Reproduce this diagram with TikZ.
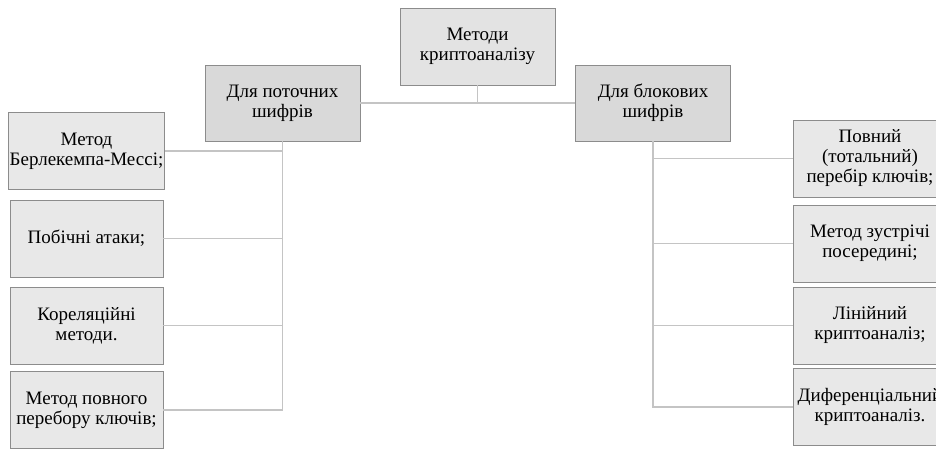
\documentclass[tikz,border=0pt]{standalone}
\usepackage{fontspec}
\setmainfont{Liberation Serif}
\usepackage{tikz}
\definecolor{ramka}{HTML}{8C8C8C}
\definecolor{liniya}{HTML}{C4C4C4}
\tikzstyle{metod} = [draw=ramka, fill=gray!18, rectangle, align=center, minimum width=153pt, minimum height=77pt, inner sep=1pt, font=\fontsize{19}{20}\selectfont]
\tikzstyle{grupa} = [metod, fill=gray!30, minimum width=155pt, minimum height=76pt]
\tikzstyle{korin} = [metod, fill=gray!22, minimum width=155pt]
\tikzstyle{zvjazok} = [draw=liniya, line width=1.8pt]

\begin{document}
\begin{tikzpicture}[x=1pt,y=-1pt]
	\useasboundingbox (0,0) rectangle (936,448);
	\clip (0,0) rectangle (936,448);
	% corin
	\node[korin](metody) at (477.5,46.5) {Методи\\криптоаналізу};
	\node[grupa](potok) at (282.5,103) {Для поточних\\шифрів};
	\node[grupa](blok) at (653,103) {Для блокових\\шифрів};
	% potokovi
	\node[metod](p1) at (86.5,151) {Метод\\Берлекемпа-Мессі;};
	\node[metod](p2) at (86.5,238.5) {Побічні атаки;};
	\node[metod](p3) at (86.5,325.5) {Кореляційні\\методи.};
	\node[metod](p4) at (86.5,410) {Метод повного\\перебору ключів;};
	% blokovi
	\node[metod](b1) at (870,158.5) {Повний\\(тотальний)\\перебір ключів;};
	\node[metod](b2) at (870,243.5) {Метод зустрічі\\посередині;};
	\node[metod](b3) at (870,325.5) {Лінійний\\криптоаналіз;};
	\node[metod](b4) at (870,407) {Диференціальний\\криптоаналіз.};
	% zvjazky
	\draw[zvjazok] (potok.east) -- (blok.west);
	\draw[zvjazok] (metody.south) -- (metody.south |- potok.east);
	\foreach \i in {1,...,4}{
		\draw[zvjazok] (potok.south) |- (p\i.east);
		\draw[zvjazok] (blok.south) |- (b\i.west);
	}
\end{tikzpicture}
\end{document}
